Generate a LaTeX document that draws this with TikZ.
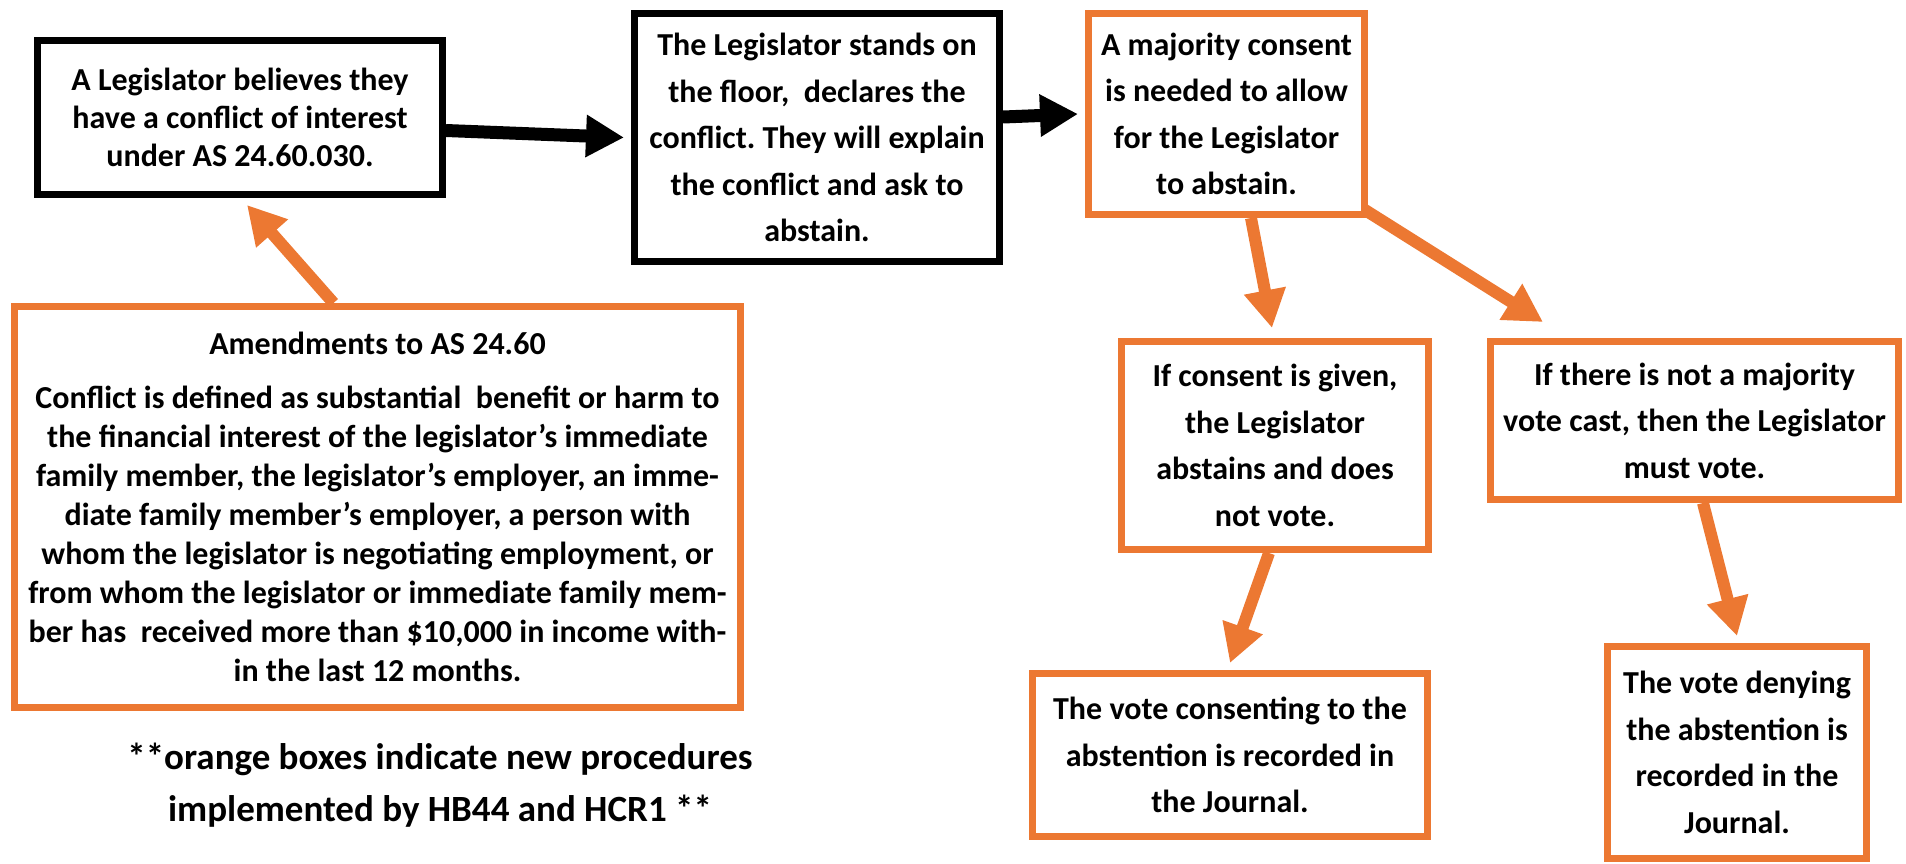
\documentclass[tikz,border=0pt]{standalone}
\usetikzlibrary{arrows.meta}
\usepackage{fontspec}
\setmainfont{Carlito}
\definecolor{boxorange}{RGB}{236,120,50}
\frenchspacing

\begin{document}
\begin{tikzpicture}[x=0.5pt,y=-0.5pt,
  black box/.style = {draw=black,line width=3.5pt,fill=white,align=center,inner sep=2pt,font=\bfseries\fontsize{16}{23.25}\selectfont},
  orange box/.style = {black box,draw=boxorange},
  black arrow/.style = {line width=6.5pt,-{Triangle[length=19pt,width=20pt]}},
  orange arrow/.style = {black arrow,line width=6pt,color=boxorange}]
  \useasboundingbox (0,0) rectangle (1906,863);
  \node[black box,minimum width=202.5pt,minimum height=77pt,font=\bfseries\fontsize{16}{19}\selectfont] (believes) at (240,117.5) {A Legislator believes they\\have a conflict of interest\\under AS 24.60.030.};
  \node[black box,minimum width=182.5pt,minimum height=124pt] (declares) at (817,137.5) {The Legislator stands on\\the floor,\ \ declares the\\conflict. They will explain\\the conflict and ask to\\abstain.};
  \node[orange box,minimum width=138pt,minimum height=100.5pt] (majority) at (1226.5,114) {A majority consent\\is needed to allow\\for the Legislator\\to abstain.};
  \node[orange box,minimum width=363pt,minimum height=200.5pt,font=\bfseries\fontsize{16}{19.5}\selectfont] (amendments) at (377.5,507) {Amendments to AS 24.60\\[7.5pt]Conflict is defined as substantial\ \ benefit or harm to\\the financial interest of the legislator’s immediate\\family member, the legislator’s employer, an imme-\\diate family member’s employer, a person with\\whom the legislator is negotiating employment, or\\from whom the legislator or immediate family mem-\\ber has\ \ received more than \$10,000 in income with-\\in the last 12 months.};
  \node[orange box,minimum width=153.5pt,minimum height=104pt] (consent) at (1275,445.5) {If consent is given,\\the Legislator\\abstains and does\\not vote.};
  \node[orange box,minimum width=204pt,minimum height=79pt] (nomajority) at (1694.5,420.5) {If there is not a majority\\vote cast, then the Legislator\\must vote.};
  \node[orange box,minimum width=197.5pt,minimum height=81.5pt] (recorded) at (1230,755) {The vote consenting to the\\abstention is recorded in\\the Journal.};
  \node[orange box,minimum width=129.5pt,minimum height=106pt] (denied) at (1737,752.5) {The vote denying\\the abstention is\\recorded in the\\Journal.};
  \node[align=center,font=\bfseries\fontsize{18.5}{26}\selectfont] (note) at (440,785) {**orange boxes indicate new procedures\\implemented by HB44 and HCR1 **};
  \draw[black arrow] ([yshift=-6.5pt]believes.east) -- ([xshift=-3.5pt]declares.west);
  \draw[black arrow] ([yshift=10.25pt]declares.east) -- ([xshift=-3.5pt]majority.west);
  \draw[orange arrow] ([xshift=-22pt]amendments.north) -- ([xshift=3.5pt,yshift=-3.5pt]believes.south);
  \draw[orange arrow] ([xshift=12.25pt]majority.south) -- ([xshift=-1.5pt,yshift=5pt]consent.north);
  \draw[orange arrow] ([xshift=-1.5pt,yshift=4pt]majority.south east) -- ([xshift=28pt,yshift=8pt]nomajority.north west);
  \draw[orange arrow] ([xshift=-3pt]consent.south) -- ([yshift=3.5pt]recorded.north);
  \draw[orange arrow] ([xshift=4.25pt]nomajority.south) -- ([yshift=3.5pt]denied.north);
\end{tikzpicture}
\end{document}
